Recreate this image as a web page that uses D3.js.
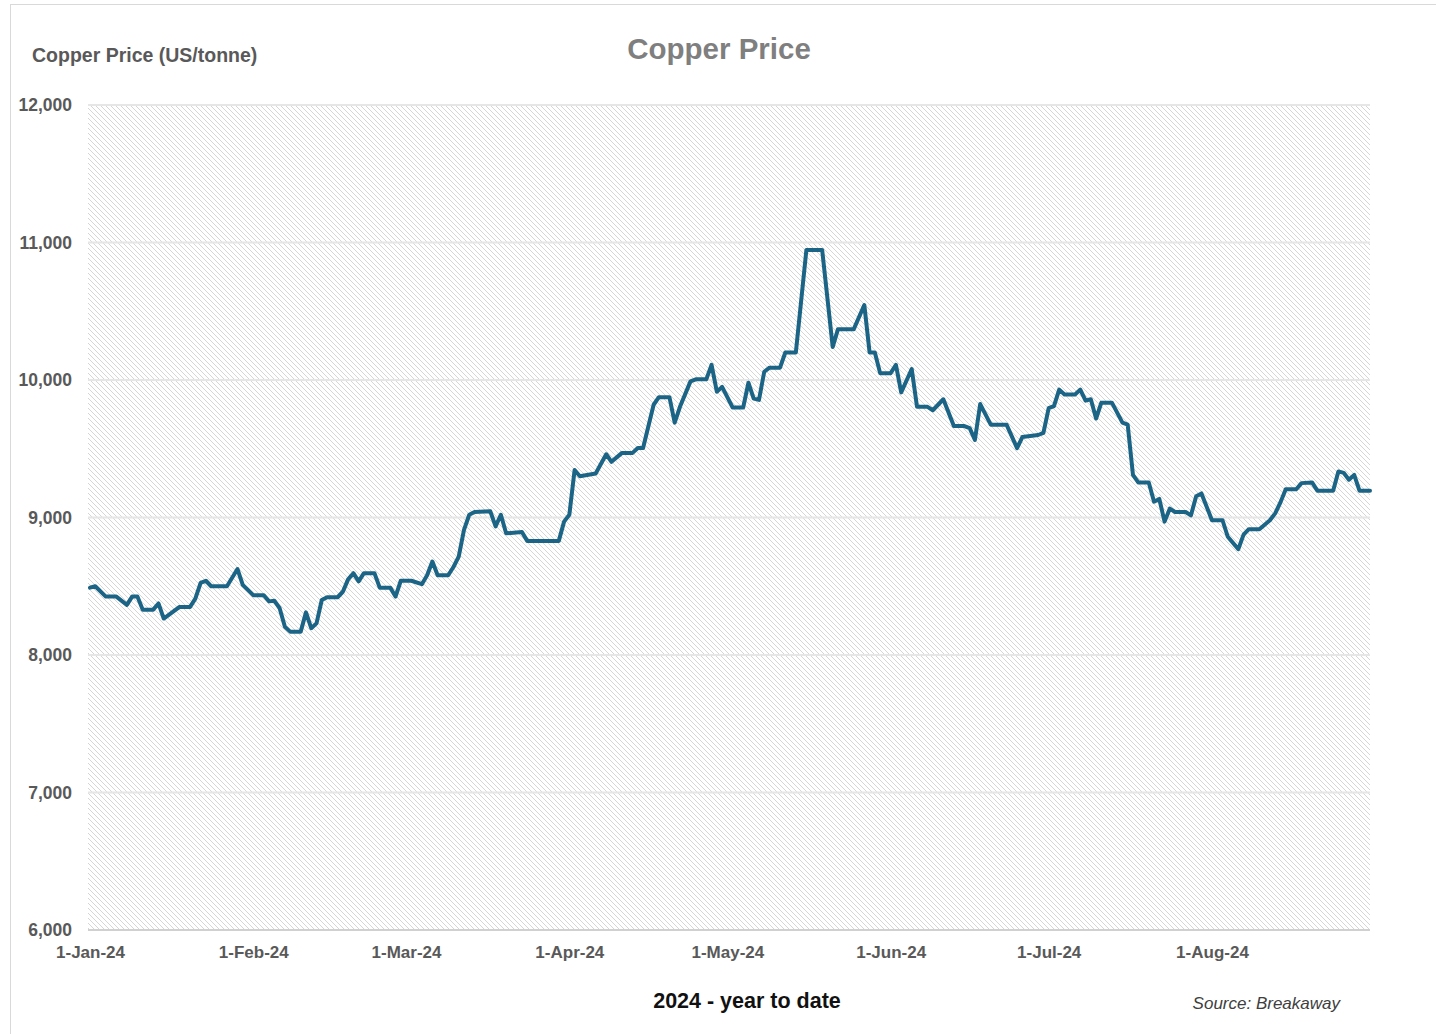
<!DOCTYPE html>
<html>
<head>
<meta charset="utf-8">
<script src="https://cdn.jsdelivr.net/npm/d3@7"></script>
<style>
  html, body { margin: 0; padding: 0; background: #fff; }
  svg { display: block; }
</style>
</head>
<body>
<svg id="chart" width="1436" height="1034"></svg>
<script>
// ---- data ----
const dates = [
  "2024-01-01","2024-01-02","2024-01-04","2024-01-06","2024-01-08","2024-01-09","2024-01-10","2024-01-11",
  "2024-01-13","2024-01-14","2024-01-15","2024-01-18","2024-01-20","2024-01-21","2024-01-22","2024-01-23",
  "2024-01-24","2024-01-27","2024-01-29","2024-01-30","2024-02-01","2024-02-03","2024-02-04","2024-02-05",
  "2024-02-06","2024-02-07","2024-02-08","2024-02-10","2024-02-11","2024-02-12","2024-02-13","2024-02-14",
  "2024-02-15","2024-02-17","2024-02-18","2024-02-19","2024-02-20","2024-02-21","2024-02-22","2024-02-24",
  "2024-02-25","2024-02-27","2024-02-28","2024-02-29","2024-03-02","2024-03-04","2024-03-05","2024-03-06",
  "2024-03-07","2024-03-09","2024-03-10","2024-03-11","2024-03-12","2024-03-13","2024-03-14","2024-03-17",
  "2024-03-18","2024-03-19","2024-03-20","2024-03-23","2024-03-24","2024-03-30","2024-03-31","2024-04-01",
  "2024-04-02","2024-04-03","2024-04-06","2024-04-08","2024-04-09","2024-04-11","2024-04-13","2024-04-14",
  "2024-04-15","2024-04-17","2024-04-18","2024-04-20","2024-04-21","2024-04-22","2024-04-24","2024-04-25",
  "2024-04-27","2024-04-28","2024-04-29","2024-04-30","2024-05-02","2024-05-04","2024-05-05","2024-05-06",
  "2024-05-07","2024-05-08","2024-05-09","2024-05-11","2024-05-12","2024-05-14","2024-05-16","2024-05-19",
  "2024-05-21","2024-05-22","2024-05-25","2024-05-27","2024-05-28","2024-05-29","2024-05-30","2024-06-01",
  "2024-06-02","2024-06-03","2024-06-05","2024-06-06","2024-06-08","2024-06-09","2024-06-11","2024-06-13",
  "2024-06-15","2024-06-16","2024-06-17","2024-06-18","2024-06-20","2024-06-23","2024-06-25","2024-06-26",
  "2024-06-29","2024-06-30","2024-07-01","2024-07-02","2024-07-03","2024-07-04","2024-07-06","2024-07-07",
  "2024-07-08","2024-07-09","2024-07-10","2024-07-11","2024-07-13","2024-07-15","2024-07-16","2024-07-17",
  "2024-07-18","2024-07-20","2024-07-21","2024-07-22","2024-07-23","2024-07-24","2024-07-25","2024-07-27",
  "2024-07-28","2024-07-29","2024-07-30","2024-08-01","2024-08-03","2024-08-04","2024-08-06","2024-08-07",
  "2024-08-08","2024-08-10","2024-08-12","2024-08-13","2024-08-14","2024-08-15","2024-08-17","2024-08-18",
  "2024-08-20","2024-08-21","2024-08-24","2024-08-25","2024-08-26","2024-08-27","2024-08-28","2024-08-29",
  "2024-08-31"
];
const prices = [
  8490, 8500, 8425, 8425, 8365, 8425, 8425, 8330,
  8330, 8375, 8265, 8350, 8350, 8410, 8525, 8540,
  8500, 8500, 8625, 8510, 8435, 8435, 8390, 8395,
  8340, 8205, 8170, 8170, 8310, 8195, 8230, 8400,
  8420, 8420, 8460, 8550, 8595, 8535, 8595, 8595,
  8490, 8490, 8425, 8540, 8540, 8515, 8580, 8680,
  8580, 8580, 8640, 8715, 8910, 9020, 9040, 9045,
  8935, 9020, 8885, 8895, 8830, 8830, 8970, 9020,
  9345, 9300, 9320, 9460, 9405, 9470, 9470, 9505,
  9505, 9820, 9875, 9875, 9690, 9805, 9990, 10005,
  10005, 10110, 9915, 9950, 9800, 9800, 9980, 9865,
  9855, 10060, 10090, 10090, 10200, 10200, 10945, 10945,
  10240, 10370, 10370, 10545, 10200, 10200, 10050, 10050,
  10110, 9910, 10080, 9805, 9805, 9780, 9860, 9665,
  9665, 9650, 9565, 9825, 9675, 9675, 9505, 9585,
  9600, 9615, 9795, 9810, 9930, 9895, 9895, 9930,
  9850, 9860, 9720, 9835, 9835, 9690, 9675, 9310,
  9255, 9255, 9115, 9135, 8970, 9065, 9040, 9040,
  9015, 9155, 9175, 8980, 8980, 8860, 8770, 8875,
  8915, 8915, 8980, 9030, 9110, 9205, 9205, 9250,
  9255, 9195, 9195, 9335, 9325, 9275, 9310, 9195,
  9195
];
const xTickDates = ["2024-01-01","2024-02-01","2024-03-01","2024-04-01","2024-05-01","2024-06-01","2024-07-01","2024-08-01"];
const yTicks = [6000, 7000, 8000, 9000, 10000, 11000, 12000];
const xDomain = ["2024-01-01", "2024-08-31"];

// ---- layout ----
const parse = d3.utcParse("%Y-%m-%d");
const data = dates.map((d, i) => ({ date: parse(d), value: prices[i] }));
const plot = { left: 90, right: 1370, top: 105, bottom: 930 };
const font = "'Liberation Sans', Arial, sans-serif";

const svg = d3.select("#chart");

// chart border (only top & left visible in frame)
svg.append("rect")
  .attr("x", 10.5).attr("y", 4.5)
  .attr("width", 1460).attr("height", 1060)
  .attr("fill", "#fff")
  .attr("stroke", "#d9d9d9").attr("stroke-width", 1);

const defs = svg.append("defs");
const pat = defs.append("pattern")
  .attr("id", "hatch")
  .attr("patternUnits", "userSpaceOnUse")
  .attr("width", 5).attr("height", 5);
pat.append("rect").attr("width", 5).attr("height", 5).attr("fill", "#ffffff");
pat.append("path")
  .attr("d", "M0,0 L5,5 M-1,4 L1,6 M4,-1 L6,1")
  .attr("stroke", "#d6d6d6").attr("stroke-width", 1);

const x = d3.scaleUtc()
  .domain(xDomain.map(parse))
  .range([plot.left, plot.right]);
const y = d3.scaleLinear()
  .domain([6000, 12000])
  .range([plot.bottom, plot.top]);

// plot area with hatch
svg.append("rect")
  .attr("x", plot.left - 2).attr("y", plot.top)
  .attr("width", plot.right - plot.left + 2).attr("height", plot.bottom - plot.top)
  .attr("fill", "url(#hatch)");

// gridlines
svg.append("g")
  .selectAll("line")
  .data(yTicks)
  .join("line")
  .attr("x1", plot.left - 2).attr("x2", plot.right)
  .attr("y1", d => y(d)).attr("y2", d => y(d))
  .attr("stroke", d => d === 6000 ? "#d0d0d0" : "#e6e6e6")
  .attr("stroke-width", 2);

// y axis
const yAxis = svg.append("g")
  .attr("transform", `translate(${plot.left - 18},0)`)
  .call(d3.axisLeft(y).tickValues(yTicks).tickFormat(d3.format(",")).tickSize(0).tickPadding(0));
yAxis.select(".domain").remove();
yAxis.selectAll("text")
  .attr("font-family", font)
  .attr("font-weight", "bold")
  .attr("font-size", 17.5)
  .attr("fill", "#595959");

// x axis
const fmt = d3.utcFormat("%-d-%b-%y");
const xAxis = svg.append("g")
  .attr("transform", `translate(0,${plot.bottom + 16})`)
  .call(d3.axisBottom(x).tickValues(xTickDates.map(parse)).tickFormat(fmt).tickSize(0).tickPadding(0));
xAxis.select(".domain").remove();
xAxis.selectAll("text")
  .attr("font-family", font)
  .attr("font-weight", "bold")
  .attr("font-size", 17)
  .attr("fill", "#595959");

// line
const line = d3.line()
  .x(d => x(d.date))
  .y(d => y(d.value));
svg.append("path")
  .datum(data)
  .attr("d", line)
  .attr("fill", "none")
  .attr("stroke", "#1b6486")
  .attr("stroke-width", 4)
  .attr("stroke-linejoin", "round")
  .attr("stroke-linecap", "round");

// titles
svg.append("text")
  .attr("x", 719).attr("y", 59)
  .attr("text-anchor", "middle")
  .attr("font-family", font)
  .attr("font-weight", "bold")
  .attr("font-size", 29.5)
  .attr("fill", "#7f7f7f")
  .text("Copper Price");

svg.append("text")
  .attr("x", 32).attr("y", 62)
  .attr("font-family", font)
  .attr("font-weight", "bold")
  .attr("font-size", 19.5)
  .attr("fill", "#595959")
  .text("Copper Price (US/tonne)");

svg.append("text")
  .attr("x", 747).attr("y", 1008)
  .attr("text-anchor", "middle")
  .attr("font-family", font)
  .attr("font-weight", "bold")
  .attr("font-size", 21.5)
  .attr("fill", "#111111")
  .text("2024 - year to date");

svg.append("text")
  .attr("x", 1340).attr("y", 1009)
  .attr("text-anchor", "end")
  .attr("font-family", font)
  .attr("font-style", "italic")
  .attr("font-size", 17)
  .attr("fill", "#404040")
  .text("Source: Breakaway");
</script>
</body>
</html>
